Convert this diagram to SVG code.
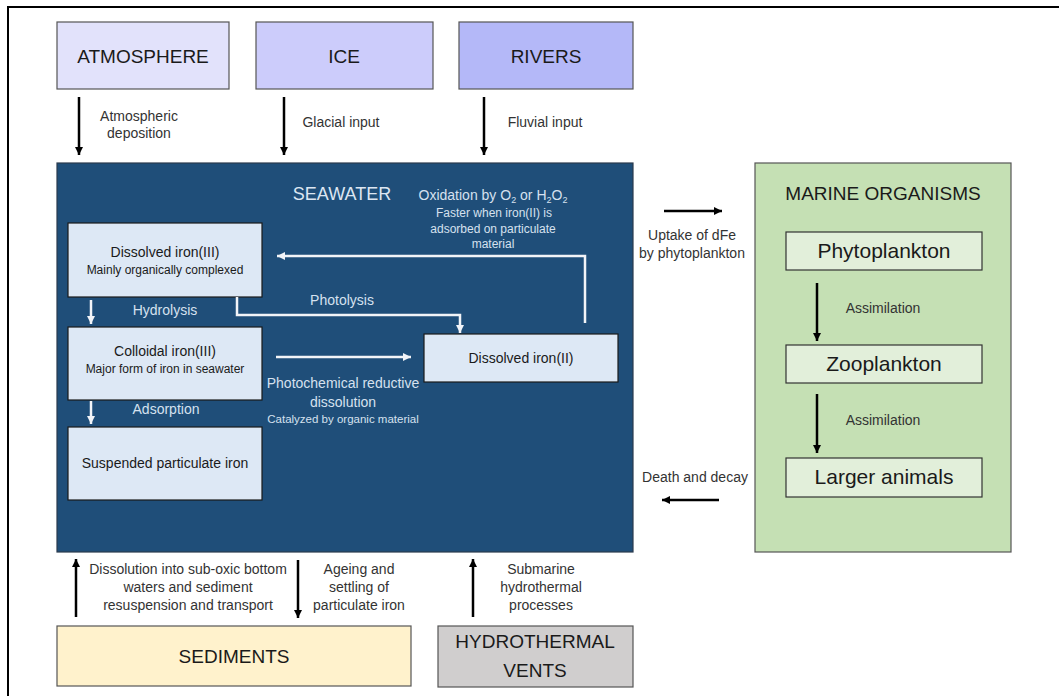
<svg xmlns="http://www.w3.org/2000/svg" width="1059" height="696" viewBox="0 0 1059 696">
<defs>
<marker id="ab" markerUnits="userSpaceOnUse" markerWidth="9" markerHeight="9" refX="8" refY="4" orient="auto"><path d="M0,0 L8,4 L0,8 z" fill="#000"/></marker>
<marker id="aw" markerUnits="userSpaceOnUse" markerWidth="9" markerHeight="9" refX="8" refY="4" orient="auto"><path d="M0,0 L8,4 L0,8 z" fill="#f2f4f8"/></marker>
<style>
text{font-family:"Liberation Sans",Arial,sans-serif;text-anchor:middle}
.big{font-size:19px;fill:#1a1a1a}
.lbl{font-size:14px;fill:#333}
.wl{font-size:14px;fill:#d6e1ef}
.ws{font-size:12px;fill:#d6e1ef}
.bt{font-size:14px;fill:#1a1a1a}
.st{font-size:12px;fill:#1a1a1a}
.org{font-size:21px;fill:#1a1a1a}
.box{stroke:#555;stroke-width:1.2}
.ibox{fill:#dde8f5;stroke:#1a1a1a;stroke-width:1.2}
.gbox{fill:#e2efda;stroke:#333;stroke-width:1.2}
.ka{stroke:#000;stroke-width:2.5;fill:none;marker-end:url(#ab)}
.wa{stroke:#f2f4f8;stroke-width:2.5;fill:none;marker-end:url(#aw)}
</style>
</defs>
<rect width="1059" height="696" fill="#fff"/>
<rect x="8" y="7" width="1100" height="800" fill="none" stroke="#000" stroke-width="2"/>

<g id="atmosphere"><rect class="box" x="57" y="22" width="172" height="67" fill="#e2e2fb"/><text class="big" x="143" y="63">ATMOSPHERE</text></g>
<g id="ice"><rect class="box" x="256" y="22" width="177" height="67" fill="#ccccfb"/><text class="big" x="344" y="63">ICE</text></g>
<g id="rivers"><rect class="box" x="459" y="22" width="174" height="67" fill="#b4b8f8"/><text class="big" x="546" y="63">RIVERS</text></g>

<g id="seawater">
<rect x="57" y="163" width="576" height="389" fill="#1f4e79" stroke="#2b3b4e" stroke-width="1.2"/>
<text x="342" y="200" style="font-size:18px;fill:#dce6f2">SEAWATER</text>
</g>
<g id="fe3"><rect class="ibox" x="68" y="223" width="194" height="74"/><text class="bt" x="165" y="257">Dissolved iron(III)</text><text class="st" x="165" y="274">Mainly organically complexed</text></g>
<g id="colloid"><rect class="ibox" x="68" y="327" width="194" height="73"/><text class="bt" x="165" y="356">Colloidal iron(III)</text><text class="st" x="165" y="373">Major form of iron in seawater</text></g>
<g id="particulate"><rect class="ibox" x="68" y="427" width="194" height="73"/><text class="bt" x="165" y="468">Suspended particulate iron</text></g>
<g id="fe2"><rect class="ibox" x="424" y="334" width="194" height="48"/><text class="bt" x="521" y="363">Dissolved iron(II)</text></g>

<g id="marine">
<rect x="755" y="163" width="256" height="389" fill="#c5e0b4" stroke="#555" stroke-width="1.2"/>
<text class="big" x="883" y="200">MARINE ORGANISMS</text>
</g>
<g id="phyto"><rect class="gbox" x="786" y="232" width="196" height="38"/><text class="org" x="884" y="258">Phytoplankton</text></g>
<g id="zoo"><rect class="gbox" x="786" y="345" width="196" height="38"/><text class="org" x="884" y="371">Zooplankton</text></g>
<g id="larger"><rect class="gbox" x="786" y="458" width="196" height="39"/><text class="org" x="884" y="484">Larger animals</text></g>

<g id="sediments"><rect class="box" x="57" y="626" width="354" height="60" fill="#fff2cc"/><text class="big" x="234" y="663">SEDIMENTS</text></g>
<g id="vents"><rect class="box" x="438" y="626" width="195" height="61" fill="#d0cece"/><text class="big" x="535" y="648">HYDROTHERMAL</text><text class="big" x="535" y="677">VENTS</text></g>

<g id="connectors">
<line class="ka" x1="79" y1="97" x2="79" y2="155"/>
<line class="ka" x1="284" y1="97" x2="284" y2="155"/>
<line class="ka" x1="484" y1="97" x2="484" y2="155"/>
<line class="ka" x1="664" y1="211" x2="722" y2="211"/>
<line class="ka" x1="719" y1="500" x2="662" y2="500"/>
<line class="ka" x1="817" y1="283" x2="817" y2="341"/>
<line class="ka" x1="817" y1="394" x2="817" y2="453"/>
<line class="ka" x1="76" y1="617" x2="76" y2="559"/>
<line class="ka" x1="298" y1="560" x2="298" y2="618"/>
<line class="ka" x1="473" y1="617" x2="473" y2="559"/>
<line class="wa" x1="91" y1="300" x2="91" y2="324"/>
<line class="wa" x1="91" y1="401" x2="91" y2="424"/>
<path class="wa" d="M237,297 V315 H460 V333"/>
<path class="wa" d="M585,323 V256 H277"/>
<line class="wa" x1="276" y1="357" x2="411" y2="357"/>
</g>

<g id="labels">
<text class="lbl" x="139" y="121">Atmospheric</text>
<text class="lbl" x="139" y="138">deposition</text>
<text class="lbl" x="341" y="127">Glacial input</text>
<text class="lbl" x="545" y="127">Fluvial input</text>
<text class="wl" x="493" y="200">Oxidation by O<tspan style="font-size:9px" dy="3">2</tspan><tspan dy="-3"> or H</tspan><tspan style="font-size:9px" dy="3">2</tspan><tspan dy="-3">O</tspan><tspan style="font-size:9px" dy="3">2</tspan></text>
<text class="ws" x="494" y="217">Faster when  iron(II) is</text>
<text class="ws" x="493" y="233">adsorbed on particulate</text>
<text class="ws" x="493" y="248">material</text>
<text class="wl" x="165" y="315">Hydrolysis</text>
<text class="wl" x="342" y="305">Photolysis</text>
<text class="wl" x="343" y="388">Photochemical  reductive</text>
<text class="wl" x="343" y="407">dissolution</text>
<text class="wl" x="343" y="423" style="font-size:11.5px">Catalyzed by organic material</text>
<text class="wl" x="166" y="414">Adsorption</text>
<text class="lbl" x="692" y="240">Uptake of dFe</text>
<text class="lbl" x="692" y="258">by phytoplankton</text>
<text class="lbl" x="695" y="482">Death and decay</text>
<text class="lbl" x="883" y="313">Assimilation</text>
<text class="lbl" x="883" y="425">Assimilation</text>
<text class="lbl" x="188" y="574">Dissolution into sub-oxic bottom</text>
<text class="lbl" x="188" y="592">waters and sediment</text>
<text class="lbl" x="188" y="610">resuspension and transport</text>
<text class="lbl" x="359" y="574">Ageing and</text>
<text class="lbl" x="359" y="592">settling of</text>
<text class="lbl" x="359" y="610">particulate iron</text>
<text class="lbl" x="541" y="574">Submarine</text>
<text class="lbl" x="541" y="592">hydrothermal</text>
<text class="lbl" x="541" y="610">processes</text>
</g>
</svg>
